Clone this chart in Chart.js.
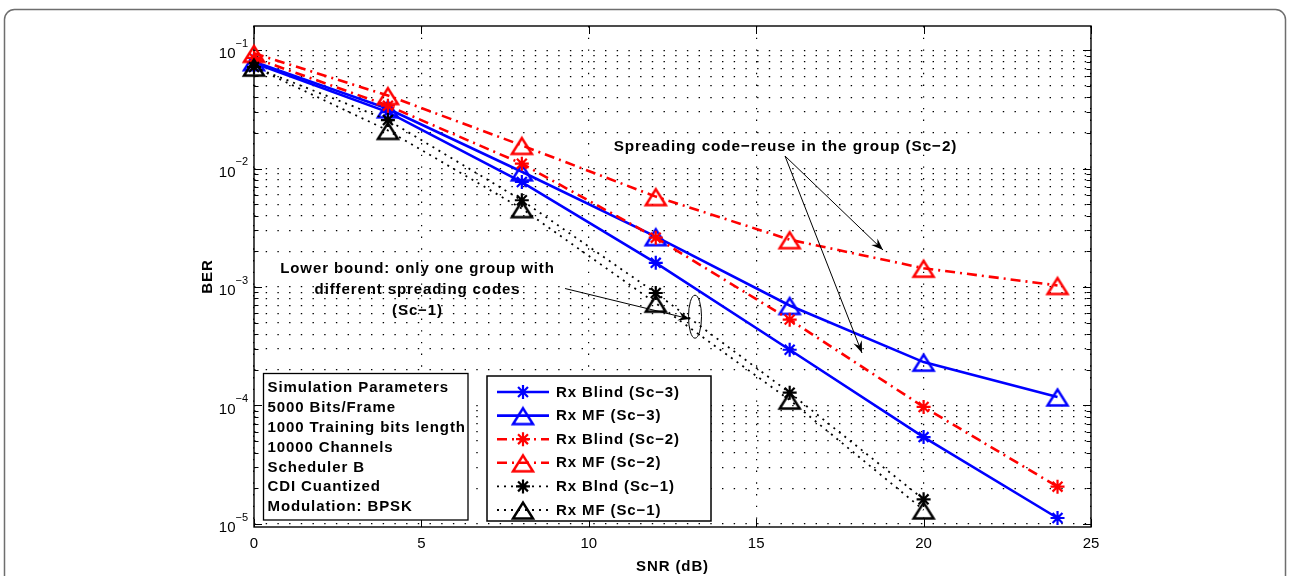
<!DOCTYPE html>
<html><head><meta charset="utf-8">
<script src="https://cdn.jsdelivr.net/npm/chart.js@4.4.1/dist/chart.umd.min.js"></script>
<style>html,body{margin:0;padding:0;background:#fff;overflow:hidden}canvas{display:block}</style>
</head><body>
<canvas id="c" width="1291" height="576"></canvas>
<script>
// ---------------- data ----------------
const SNR = [0, 4, 8, 12, 16, 20, 24];
const BLIND_SC3 = [0.078, 0.030, 0.0077, 0.0016, 2.95e-4, 5.4e-5, 1.12e-5];
const MF_SC3    = [0.080, 0.032, 0.0094, 0.00266, 6.98e-4, 2.32e-4, 1.18e-4];
const BLIND_SC2 = [0.086, 0.034, 0.0110, 0.00261, 5.3e-4, 9.7e-5, 2.06e-5];
const MF_SC2    = [0.094, 0.0414, 0.0157, 0.0058, 0.00251, 0.00144, 0.00103];
const BLIND_SC1 = [0.072, 0.0257, 0.0054, 8.9e-4, 1.28e-4, 1.61e-5];
const MF_SC1    = [0.072, 0.021, 0.00459, 7.3e-4, 1.11e-4, 1.31e-5];
const SERIES_NAMES = ['Rx Blind (Sc\u22123)', 'Rx MF (Sc\u22123)', 'Rx Blind (Sc\u22122)', 'Rx MF (Sc\u22122)', 'Rx Blnd (Sc\u22121)', 'Rx MF (Sc\u22121)'];
const X_TICKS = [0, 5, 10, 15, 20, 25];
const Y_TICK_EXPONENTS = [-1, -2, -3, -4, -5];
const X_TITLE = 'SNR (dB)';
const Y_TITLE = 'BER';
const PARAM_LINES = ['Simulation Parameters', '5000 Bits/Frame', '1000 Training bits length', '10000 Channels', 'Scheduler B', 'CDI Cuantized', 'Modulation: BPSK'];
const NOTE_SC2 = 'Spreading code\u2212reuse in the group (Sc\u22122)';
const NOTE_SC1 = ['Lower bound: only one group with', 'different spreading codes', '(Sc\u22121)'];

// ---------------- styles ----------------
const FONT = '"Liberation Sans", Helvetica, Arial, sans-serif';
const BLUE = '#0000ff', RED = '#ff0000', BLACK = '#000000';
const Y_MIN = 9.4e-6, Y_MAX = 0.16;

function triImg(color) {
  const c = document.createElement('canvas'); c.width = 28; c.height = 28;
  const g = c.getContext('2d'); g.strokeStyle = color; g.lineWidth = 2.5; g.lineJoin = 'miter';
  g.beginPath(); g.moveTo(14, 6.6); g.lineTo(24, 22.6); g.lineTo(4, 22.6); g.closePath(); g.stroke();
  return c;
}
const TRI = {[BLUE]: triImg(BLUE), [RED]: triImg(RED), [BLACK]: triImg(BLACK)};

const SOLID = [], DASHDOT = [10, 5, 2, 5], DOTTED = [2, 5];
function ds(i, ys, color, dash, width, marker) {
  return {
    label: SERIES_NAMES[i],
    data: ys.map((y, k) => ({x: SNR[k], y})),
    borderColor: color, borderWidth: width, borderDash: dash,
    pointStyle: marker === 'star' ? 'star' : TRI[color],
    pointRadius: marker === 'star' ? 7 : 11, pointHoverRadius: marker === 'star' ? 7 : 11,
    pointBorderColor: color, pointBackgroundColor: 'rgba(0,0,0,0)', pointBorderWidth: 2.2,
    fill: false, tension: 0, clip: false, order: 6 - i
  };
}
const datasets = [
  ds(0, BLIND_SC3, BLUE, SOLID, 2.6, 'star'),
  ds(1, MF_SC3, BLUE, SOLID, 2.6, 'tri'),
  ds(2, BLIND_SC2, RED, DASHDOT, 2.6, 'star'),
  ds(3, MF_SC2, RED, DASHDOT, 2.6, 'tri'),
  ds(4, BLIND_SC1, BLACK, DOTTED, 1.8, 'star'),
  ds(5, MF_SC1, BLACK, DOTTED, 1.8, 'tri')
];

const Y_GRID_VALUES = [];
for (let e = -6; e <= 0; e++) for (let m = 1; m <= 9; m++) {
  const v = m * Math.pow(10, e);
  if (v >= Y_MIN && v <= Y_MAX) Y_GRID_VALUES.push(v);
}

function boldText(ctx, size) {
  ctx.font = 'bold ' + size + 'px ' + FONT;
  try { ctx.letterSpacing = '0.9px'; } catch (e) {}
}
function plainText(ctx) { try { ctx.letterSpacing = '0px'; } catch (e) {} }

function arrow(ctx, x1, y1, x2, y2) {
  ctx.save();
  ctx.strokeStyle = '#000'; ctx.fillStyle = '#000'; ctx.lineWidth = 1;
  ctx.beginPath(); ctx.moveTo(x1, y1); ctx.lineTo(x2, y2); ctx.stroke();
  const a = Math.atan2(y2 - y1, x2 - x1), L = 12, W = 4.5;
  ctx.translate(x2, y2); ctx.rotate(a);
  ctx.beginPath(); ctx.moveTo(0, 0); ctx.lineTo(-L, W); ctx.lineTo(-0.65 * L, 0); ctx.lineTo(-L, -W); ctx.closePath(); ctx.fill();
  ctx.restore();
}

function drawMarker(ctx, d, x, y) {
  ctx.save();
  ctx.strokeStyle = d.pointBorderColor; ctx.fillStyle = 'rgba(0,0,0,0)'; ctx.lineWidth = d.pointBorderWidth;
  ctx.setLineDash([]);
  if (typeof d.pointStyle !== 'string') {
    ctx.drawImage(d.pointStyle, x - d.pointStyle.width / 2, y - d.pointStyle.height / 2);
  } else if (Chart.helpers && Chart.helpers.drawPoint) {
    Chart.helpers.drawPoint(ctx, {pointStyle: 'star', radius: d.pointRadius, rotation: 0, borderWidth: d.pointBorderWidth}, x, y);
  } else {
    const r = d.pointRadius; ctx.beginPath();
    for (let k = 0; k < 4; k++) { const t = k * Math.PI / 4; ctx.moveTo(x - r * Math.cos(t), y - r * Math.sin(t)); ctx.lineTo(x + r * Math.cos(t), y + r * Math.sin(t)); }
    ctx.stroke();
  }
  ctx.restore();
}

const decor = {
  id: 'decor',
  beforeDraw(chart) {
    const ctx = chart.ctx;
    ctx.save();
    ctx.fillStyle = '#fff'; ctx.fillRect(0, 0, chart.width, chart.height);
    ctx.strokeStyle = '#6e6e6e'; ctx.lineWidth = 1.5;
    ctx.beginPath();
    if (ctx.roundRect) ctx.roundRect(4.5, 9.5, 1281, 620, 10); else ctx.rect(4.5, 9.5, 1281, 620);
    ctx.stroke();
    ctx.restore();
  },
  beforeDatasetsDraw(chart) {
    const ctx = chart.ctx, a = chart.chartArea;
    ctx.save();
    ctx.strokeStyle = '#000'; ctx.lineWidth = 1.4;
    ctx.strokeRect(a.left, a.top, a.right - a.left, a.bottom - a.top);
    // inward ticks
    ctx.lineWidth = 1;
    const ys = chart.scales.y, xs = chart.scales.x;
    ctx.beginPath();
    Y_GRID_VALUES.forEach(v => {
      const y = Math.round(ys.getPixelForValue(v)) + 0.5;
      const major = Math.abs(Math.log10(v) - Math.round(Math.log10(v))) < 1e-9;
      const L = major ? 8 : 4.5;
      ctx.moveTo(a.left, y); ctx.lineTo(a.left + L, y);
      ctx.moveTo(a.right, y); ctx.lineTo(a.right - L, y);
    });
    X_TICKS.forEach(v => {
      const x = Math.round(xs.getPixelForValue(v)) + 0.5;
      ctx.moveTo(x, a.bottom); ctx.lineTo(x, a.bottom - 8);
      ctx.moveTo(x, a.top); ctx.lineTo(x, a.top + 8);
    });
    ctx.stroke();
    ctx.restore();
  },
  afterDatasetsDraw(chart) {
    const ctx = chart.ctx, a = chart.chartArea, ys = chart.scales.y;
    ctx.save();
    // y tick labels 10^e
    ctx.fillStyle = '#000';
    Y_TICK_EXPONENTS.forEach(e => {
      const y = ys.getPixelForValue(Math.pow(10, e));
      plainText(ctx);
      ctx.font = '15px ' + FONT; ctx.textAlign = 'right'; ctx.textBaseline = 'alphabetic';
      ctx.fillText('10', a.left - 18.5, y + 8.3);
      ctx.font = '11px ' + FONT; ctx.textAlign = 'left';
      ctx.fillText('\u2212' + Math.abs(e), a.left - 18.5, y - 3.3);
    });
    // axis titles
    boldText(ctx, 15);
    ctx.textAlign = 'center'; ctx.textBaseline = 'middle';
    ctx.fillText(X_TITLE, (a.left + a.right) / 2, 567);
    ctx.save(); ctx.translate(208, (a.top + a.bottom) / 2); ctx.rotate(-Math.PI / 2);
    ctx.fillText(Y_TITLE, 0, 0); ctx.restore();

    // parameters box
    ctx.fillStyle = '#fff'; ctx.fillRect(263.5, 373.5, 204.5, 146.5);
    ctx.strokeStyle = '#000'; ctx.lineWidth = 1.3; ctx.strokeRect(263.5, 373.5, 204.5, 146.5);
    ctx.fillStyle = '#000'; boldText(ctx, 15); ctx.textAlign = 'left'; ctx.textBaseline = 'middle';
    PARAM_LINES.forEach((t, k) => ctx.fillText(t, 267.5, 387.8 + k * 19.9));

    // legend
    ctx.fillStyle = '#fff'; ctx.fillRect(487, 376, 224, 145);
    ctx.strokeStyle = '#000'; ctx.lineWidth = 1.5; ctx.strokeRect(487, 376, 224, 145);
    chart.data.datasets.forEach((d, k) => {
      const y = 392 + k * 23.6;
      ctx.save();
      ctx.strokeStyle = d.borderColor; ctx.lineWidth = d.borderWidth; ctx.setLineDash(d.borderDash);
      ctx.beginPath(); ctx.moveTo(497, y); ctx.lineTo(549, y); ctx.stroke();
      ctx.restore();
      drawMarker(ctx, d, 523, y);
      ctx.fillStyle = '#000'; boldText(ctx, 15); ctx.textAlign = 'left'; ctx.textBaseline = 'middle';
      ctx.fillText(d.label, 556, y + 0.5);
    });

    // annotations
    boldText(ctx, 15.3); ctx.fillStyle = '#000'; ctx.textAlign = 'center'; ctx.textBaseline = 'alphabetic';
    ctx.fillText(NOTE_SC2, 785.5, 150.5);
    boldText(ctx, 15);
    NOTE_SC1.forEach((t, k) => ctx.fillText(t, 417.5, 272.7 + k * 21.2));
    plainText(ctx);
    arrow(ctx, 785, 156, 883, 250);
    arrow(ctx, 785, 156, 862, 353);
    arrow(ctx, 565, 288.5, 690, 319);
    ctx.strokeStyle = '#000'; ctx.lineWidth = 1;
    ctx.beginPath(); ctx.ellipse(695, 316.7, 6.5, 21.5, 0, 0, Math.PI * 2); ctx.stroke();
    ctx.restore();
  }
};

Chart.defaults.font.family = FONT;
new Chart(document.getElementById('c'), {
  type: 'line',
  data: {datasets},
  options: {
    responsive: false, animation: false, devicePixelRatio: 1,
    layout: {padding: {top: 26, right: 200, bottom: 0, left: 0}},
    plugins: {legend: {display: false}, tooltip: {enabled: false}},
    events: [],
    scales: {
      x: {
        type: 'linear', min: 0, max: 25,
        afterBuildTicks(s) { s.ticks = X_TICKS.map(v => ({value: v})); },
        afterFit(s) { s.height = 49; },
        ticks: {color: '#000', font: {family: FONT, size: 15}, padding: 8, maxRotation: 0, autoSkip: false},
        grid: {color: '#000', lineWidth: 1.2, drawTicks: false},
        border: {display: false, dash: [1.4, 10.3]}
      },
      y: {
        type: 'logarithmic', min: Y_MIN, max: Y_MAX,
        afterBuildTicks(s) { s.ticks = Y_GRID_VALUES.map(v => ({value: v})); },
        afterFit(s) { s.width = 254; },
        ticks: {display: false},
        grid: {color: '#000', lineWidth: 1.2, drawTicks: false},
        border: {display: false, dash: [1.4, 10.3]}
      }
    }
  },
  plugins: [decor]
});
</script>
</body></html>
